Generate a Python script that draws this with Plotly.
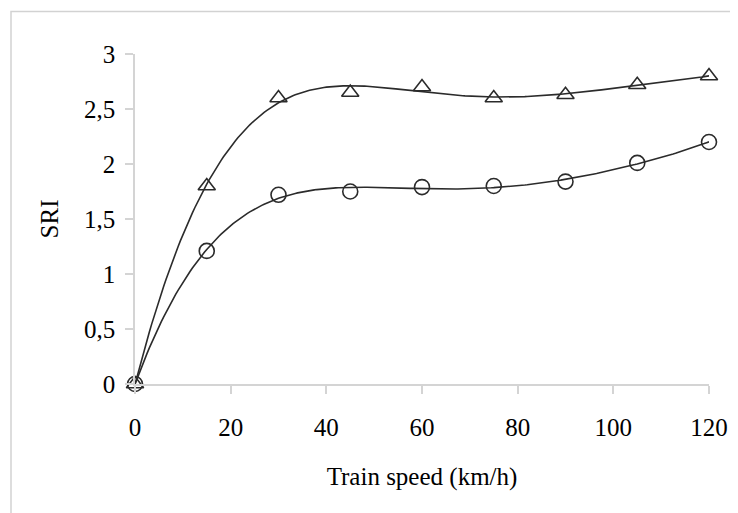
import numpy as np
import plotly.graph_objects as go

speed = [0, 15, 30, 45, 60, 75, 90, 105, 120]
sri_triangle = [0, 1.80, 2.60, 2.65, 2.70, 2.60, 2.63, 2.72, 2.80]
sri_circle = [0, 1.21, 1.72, 1.75, 1.79, 1.80, 1.84, 2.01, 2.20]
y_tick_vals = [0, 0.5, 1, 1.5, 2, 2.5, 3]
y_tick_text = ["0", "0,5", "1", "1,5", "2", "2,5", "3"]
x_tick_vals = [0, 20, 40, 60, 80, 100, 120]

FIT_DEG = 6
xs = np.linspace(min(speed), max(speed), 241)

def trend(y):
    c = np.polyfit(speed, y, FIT_DEG)
    return np.polyval(c, xs)

LINE = "#2b2b2b"
AXIS = "#d4d4d4"
FONT = "Liberation Serif, Times New Roman, serif"

fig = go.Figure()
for ys, sym in [(sri_triangle, "triangle-up-open"), (sri_circle, "circle-open")]:
    fig.add_trace(go.Scatter(x=xs, y=trend(ys), mode="lines",
                             line=dict(color=LINE, width=1.6), showlegend=False,
                             hoverinfo="skip"))
    fig.add_trace(go.Scatter(x=speed, y=ys, mode="markers",
                             marker=dict(symbol=sym, size=15, color=LINE,
                                         line=dict(width=1.6, color=LINE)),
                             showlegend=False, cliponaxis=False))

# page body has an 8px default margin: figure sized/positioned to compensate
fig.update_layout(
    width=730, height=505,
    margin=dict(l=127, r=29, t=46, b=129),
    paper_bgcolor="white", plot_bgcolor="white",
    font=dict(family=FONT, size=25, color="black"),
    xaxis=dict(range=[0, 120], tickvals=x_tick_vals, showgrid=False, zeroline=False,
               showline=True, linecolor=AXIS, linewidth=1.5, automargin=False,
               ticks="outside", ticklen=8, tickcolor=AXIS, tickwidth=1.5,
               tickfont=dict(family=FONT, size=25), ticklabelstandoff=12,
               title=dict(text="Train speed (km/h)", font=dict(family=FONT, size=25), standoff=28)),
    yaxis=dict(range=[0, 3], tickvals=y_tick_vals, ticktext=y_tick_text, showgrid=False,
               zeroline=False, showline=True, linecolor=AXIS, linewidth=1.5, automargin=False,
               ticks="outside", ticklen=8, tickcolor=AXIS, tickwidth=1.5,
               tickfont=dict(family=FONT, size=25), ticklabelstandoff=5,
               title=dict(text="SRI", font=dict(family=FONT, size=25), standoff=18)),
)

# outer frame (extends past right/bottom edges as in the reference)
fig.add_shape(type="rect", xref="paper", yref="paper",
              x0=(11 - 135) / 574, x1=1.2, y0=-0.6, y1=(384 - 11.5) / 330,
              line=dict(color="#d2d2d2", width=1.5), layer="below")

fig.write_html("out.html")
